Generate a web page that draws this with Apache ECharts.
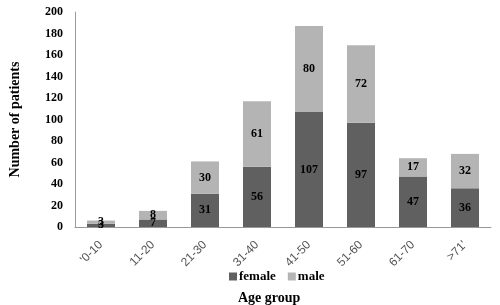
<!DOCTYPE html>
<html><head><meta charset="utf-8">
<script src="https://cdn.jsdelivr.net/npm/echarts@6/dist/echarts.min.js"></script>
<style>html,body{margin:0;padding:0;background:#fff}#c{width:500px;height:305px}</style>
</head><body><div id="c"></div>
<script>
const categories = ["'0-10", "11-20", "21-30", "31-40", "41-50", "51-60", "61-70", ">71'"];
const female = [3, 7, 31, 56, 107, 97, 47, 36];
const male = [3, 8, 30, 61, 80, 72, 17, 32];
const yTicks = {min: 0, max: 200, interval: 20};

const serif = '"Liberation Serif", "DejaVu Serif", serif';
const chart = echarts.init(document.getElementById('c'), null, {renderer: 'canvas'});
const lbl = {show: true, position: 'inside', color: '#000', fontFamily: serif, fontWeight: 'bold', fontSize: 12};
chart.setOption({
  animation: false,
  grid: {left: 75, right: 9, top: 12, bottom: 78},
  legend: {
    top: 265, left: 224, itemWidth: 8, itemHeight: 8, itemGap: 12,
    icon: 'rect',
    textStyle: {fontFamily: serif, fontWeight: 'bold', fontSize: 13, color: '#000', padding: [0,0,0,-3]},
    data: ['female', 'male']
  },
  title: {
    text: 'Age group', left: 233, top: 286,
    textStyle: {fontFamily: serif, fontWeight: 'bold', fontSize: 14, color: '#000'}
  },
  xAxis: {
    type: 'category', data: categories,
    axisLine: {lineStyle: {color: '#999'}},
    axisTick: {show: false},
    axisLabel: {rotate: 45, color: '#555', fontFamily: '"Liberation Sans", sans-serif', fontSize: 12, margin: 16}
  },
  yAxis: {
    type: 'value', min: yTicks.min, max: yTicks.max, interval: yTicks.interval,
    name: 'Number of patients', nameLocation: 'middle', nameGap: 53,
    nameTextStyle: {fontFamily: serif, fontWeight: 'bold', fontSize: 14, color: '#000'},
    axisLine: {show: true, lineStyle: {color: '#999'}},
    axisTick: {show: false},
    splitLine: {show: false},
    axisLabel: {color: '#000', fontFamily: serif, fontWeight: 'bold', fontSize: 12, margin: 12}
  },
  series: [
    {name: 'female', type: 'bar', stack: 'a', data: female, barWidth: 28,
     itemStyle: {color: '#606060'}, label: lbl},
    {name: 'male', type: 'bar', stack: 'a', data: male, barWidth: 28,
     itemStyle: {color: '#b4b4b4'}, label: lbl}
  ]
});
</script></body></html>
